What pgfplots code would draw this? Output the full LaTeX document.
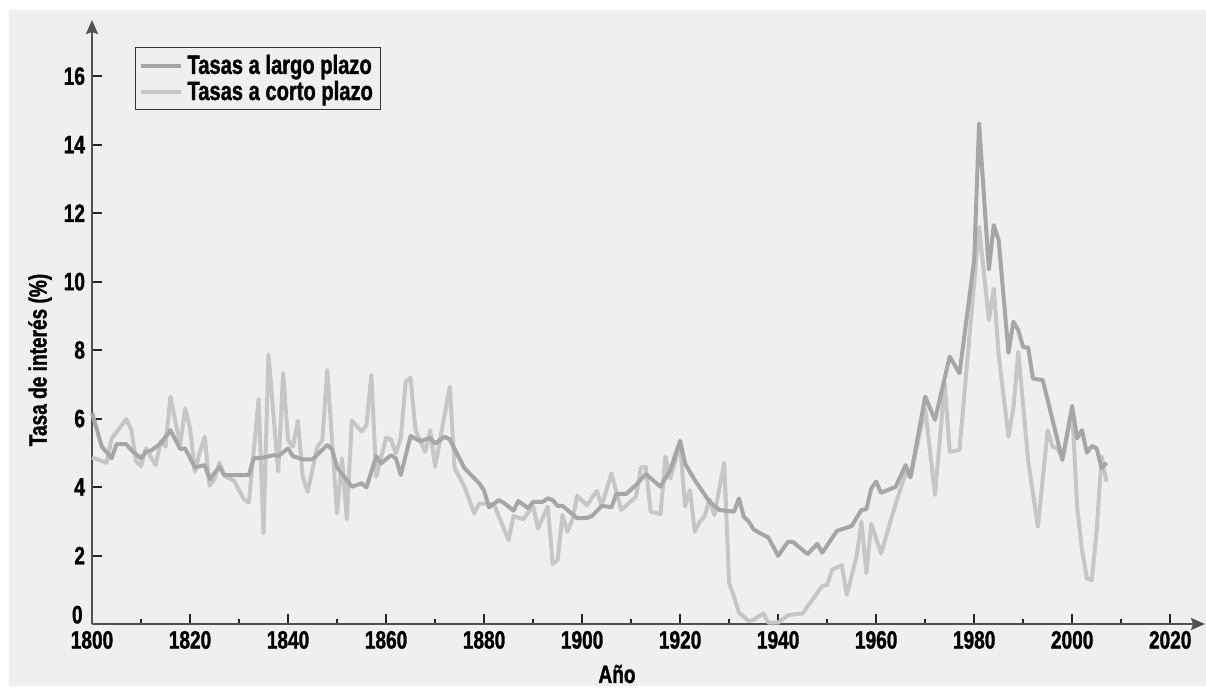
\documentclass[border=0pt]{standalone}
\usepackage{fontspec}
\setmainfont{Liberation Sans}[FakeStretch=0.76,
  BoldFont={Liberation Sans Bold}, BoldFeatures={FakeBold=1.2}]
\usepackage{pgfplots}
\pgfplotsset{compat=1.18}
\usetikzlibrary{arrows.meta}

\definecolor{panel}{RGB}{240,239,237}
\definecolor{longc}{RGB}{166,166,168}
\definecolor{shortc}{RGB}{198,198,200}
\definecolor{axisc}{RGB}{80,80,80}
\newcommand{\lbl}{\fontsize{12.6}{13}\selectfont\bfseries}
\newcommand{\leg}{\fontsize{13.3}{13.5}\selectfont\bfseries}

\begin{document}
\begin{tikzpicture}
  % white frame and light grey panel (1 px of the reference = 0.5bp)
  \fill[white] (-46bp,-31bp) rectangle (557bp,312bp);
  \fill[panel] (-41.5bp,-31bp) rectangle (557bp,307bp);
  \begin{axis}[
      at={(0,0)}, anchor=south west,
      scale only axis, width=556.5bp, height=302bp,
      xmin=1800, xmax=2027.1, ymin=0, ymax=17.64,
      clip=false,
      axis lines=left,
      axis line style={draw=axisc, line width=1bp,
        -{Stealth[length=7bp, width=6bp, inset=1bp]}},
      xtick={1800,1820,...,2020},
      minor xtick={1810,1830,...,2010},
      ytick={0,2,...,16},
      yticklabels={{},2,4,6,8,10,12,14,16},
      tick align=inside,
      major tick length=5bp, minor tick length=2.5bp,
      tick style={draw=black!85, line width=1bp},
      /pgf/number format/assume math mode=true,
      /pgf/number format/1000 sep={},
      ticklabel style={font=\lbl},
      xlabel={Año}, ylabel={Tasa de interés (\%)},
      label style={font=\lbl},
      xlabel style={at={(axis description cs:0.4717,-0.0828)}, anchor=center},
      ylabel style={at={(axis description cs:-0.0467,0.437)}, anchor=center},
      legend style={at={(axis description cs:0.0386,0.955)}, anchor=north west,
        draw=black!80, line width=0.5bp, fill=none, font=\leg,
        inner xsep=2bp, inner ysep=1.5bp, row sep=-2bp,
        cells={anchor=west}},
      reverse legend,
      legend image code/.code={
        \draw[#1] (1.5bp,0bp) -- (17bp,0bp);
        \path (0bp,0bp) -- (20bp,0bp);},
    ]
    \addplot[shortc, line width=2bp, line join=round] coordinates {
      (1800,4.86)(1803,4.71)(1804,5.42)(1807,5.98)(1808,5.68)(1809,4.76)
      (1810,4.61)(1811,5.13)(1813,4.64)(1814,5.34)(1815,5.18)(1816,6.64)
      (1818,5.23)(1819,6.30)(1820,5.72)(1821,4.45)(1822,5.03)(1823,5.47)
      (1824,4.04)(1825,4.23)(1826,4.71)(1827,4.33)(1829,4.18)(1831,3.64)
      (1832,3.55)(1834,6.57)(1835,2.65)(1836,7.88)(1838,4.45)(1839,7.32)
      (1840,5.37)(1841,5.18)(1842,5.94)(1843,4.30)(1844,3.86)(1846,5.18)
      (1847,5.37)(1848,7.42)(1850,3.23)(1851,4.84)(1852,3.06)(1853,5.94)
      (1855,5.62)(1856,5.81)(1857,7.27)(1858,4.30)(1860,5.44)(1861,5.39)
      (1862,4.98)(1863,5.42)(1864,7.08)(1865,7.19)(1866,5.66)(1868,5.03)
      (1869,5.66)(1870,4.59)(1873,6.93)(1874,4.55)(1876,4.01)(1878,3.23)
      (1879,3.52)(1882,3.50)(1885,2.45)(1886,3.15)(1888,3.06)(1890,3.45)
      (1891,2.79)(1893,3.43)(1894,1.75)(1895,1.87)(1896,3.18)(1897,2.70)
      (1898,3.04)(1899,3.74)(1901,3.47)(1903,3.89)(1904,3.45)(1906,4.40)
      (1908,3.33)(1911,3.72)(1912,4.57)(1913,4.59)(1914,3.28)(1916,3.21)
      (1917,4.89)(1918,4.25)(1920,5.27)(1921,3.43)(1922,3.91)(1923,2.70)
      (1924,2.99)(1925,3.15)(1926,3.64)(1927,3.18)(1929,4.71)(1930,1.19)
      (1931,0.80)(1932,0.33)(1934,0.09)(1935,0.12)(1937,0.31)(1938,0.04)
      (1940,0.04)(1942,0.26)(1945,0.31)(1949,1.11)(1950,1.14)(1951,1.58)
      (1953,1.72)(1954,0.85)(1956,1.97)(1957,2.99)(1958,1.48)(1959,2.92)
      (1961,2.06)(1963,3.04)(1964,3.52)(1966,4.40)(1967,4.30)(1970,6.30)
      (1972,3.77)(1974,7.03)(1975,5.03)(1977,5.08)(1981,11.60)(1983,8.88)
      (1984,9.80)(1985,7.85)(1987,5.47)(1988,6.30)(1989,7.95)(1991,4.79)
      (1993,2.84)(1995,5.66)(1996,5.18)(1997,5.13)(1998,4.84)(2000,6.25)
      (2001,3.43)(2002,2.16)(2003,1.33)(2004,1.28)(2005,2.75)(2006,4.89)
      (2007,4.16)
    };
    \addlegendentry{Tasas a corto plazo}
    \addplot[longc, line width=2bp, line join=round] coordinates {
      (1800,6.17)(1802,5.18)(1804,4.84)(1805,5.25)(1807,5.25)(1808,5.08)
      (1810,4.84)(1811,5.03)(1812,5.06)(1814,5.27)(1816,5.66)(1818,5.11)
      (1819,5.13)(1821,4.57)(1823,4.64)(1824,4.23)(1826,4.59)(1827,4.35)
      (1832,4.35)(1833,4.84)(1835,4.86)(1837,4.93)(1838,4.90)(1840,5.13)
      (1841,4.90)(1843,4.81)(1845,4.81)(1848,5.23)(1849,5.10)(1850,4.57)
      (1853,4.01)(1855,4.11)(1856,3.99)(1858,4.90)(1859,4.69)(1861,4.93)
      (1862,4.84)(1863,4.35)(1865,5.49)(1867,5.34)(1869,5.44)(1870,5.27)
      (1872,5.47)(1873,5.39)(1876,4.55)(1879,4.11)(1880,3.90)(1881,3.41)
      (1883,3.62)(1884,3.54)(1886,3.31)(1887,3.59)(1889,3.38)(1890,3.57)
      (1892,3.57)(1893,3.67)(1894,3.62)(1895,3.45)(1896,3.45)(1899,3.09)
      (1901,3.10)(1902,3.15)(1904,3.45)(1906,3.41)(1907,3.80)(1909,3.80)
      (1911,4.06)(1913,4.38)(1916,4.01)(1918,4.50)(1920,5.35)(1921,4.69)
      (1923,4.20)(1926,3.57)(1928,3.33)(1931,3.28)(1932,3.67)(1933,3.13)
      (1934,2.99)(1935,2.76)(1937,2.60)(1938,2.53)(1940,1.99)(1942,2.40)
      (1943,2.40)(1946,2.04)(1948,2.34)(1949,2.08)(1952,2.72)(1955,2.86)
      (1957,3.33)(1958,3.35)(1959,3.96)(1960,4.16)(1961,3.83)(1964,4.01)
      (1966,4.64)(1967,4.28)(1970,6.64)(1972,5.96)(1975,7.81)(1977,7.32)
      (1980,10.63)(1981,14.62)(1983,10.36)(1984,11.65)(1985,11.21)(1987,7.92)
      (1988,8.83)(1989,8.58)(1990,8.08)(1991,8.08)(1992,7.17)(1994,7.12)
      (1998,4.79)(2000,6.37)(2001,5.42)(2002,5.66)(2003,5.00)(2004,5.20)
      (2005,5.13)(2006,4.55)(2007,4.71)
    };
    \addlegendentry{Tasas a largo plazo}
    % the 0 of the y axis sits on the axis line, above the 1800 label
    \node[anchor=south east, inner sep=0pt, font=\lbl]
      at ([xshift=-4.5bp]axis cs:1800,0) {0};
  \end{axis}
\end{tikzpicture}
\end{document}
